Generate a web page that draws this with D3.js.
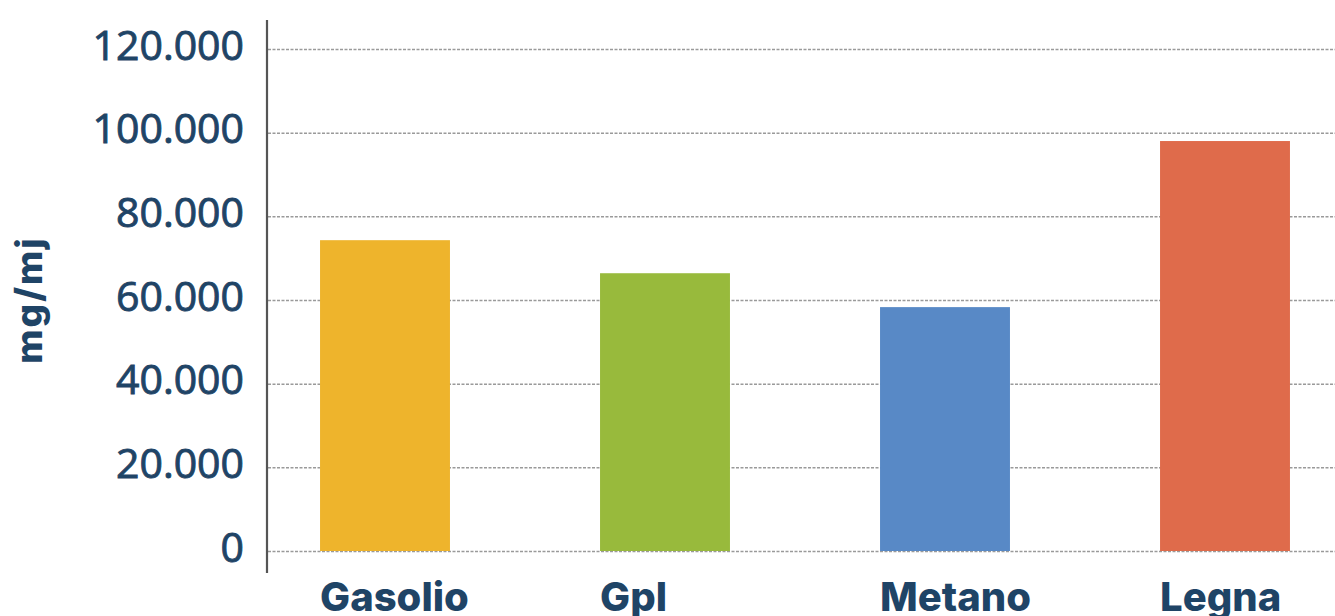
<!DOCTYPE html>
<html>
<head>
<meta charset="utf-8">
<script src="https://cdn.jsdelivr.net/npm/d3@7"></script>
<style>
    html, body { margin: 0; padding: 0; background: #ffffff; overflow: hidden; }
    #chart { width: 1335px; height: 616px; }
</style>
</head>
<body>
<div id="chart"></div>
<script>
//
// Emissioni per combustibile - bar chart
//
var categories = ["Gasolio", "Gpl", "Metano", "Legna"];
var values = [74300, 66400, 58300, 98000];
var barColors = ["#eeb42c", "#98ba3c", "#5889c6", "#df6b4b"];
var yTicks = [0, 20000, 40000, 60000, 80000, 100000, 120000];
var yLabel = "mg/mj";

var _textColor = "#1f4466";

function drawBars(divName, width, height) {

    var axisX = 267;
    var yTop = 49, yBottom = 551;

    var it = d3.formatLocale({ decimal: ",", thousands: ".", grouping: [3], currency: ["€", ""] });
    var fmt = it.format(",d");

    var svg = d3.select("#" + divName)
        .append("svg")
        .attr("width", width)
        .attr("height", height);

    var x = d3.scaleBand()
        .domain(categories)
        .range([245, 1365])
        .paddingInner(0.536)
        .paddingOuter(0.268);

    var y = d3.scaleLinear()
        .domain([0, 120000])
        .range([yBottom, yTop]);

    // y axis with gridlines
    var yAxis = svg.append("g")
        .attr("transform", "translate(" + axisX + ",0)")
        .call(d3.axisLeft(y)
            .tickValues(yTicks)
            .tickSize(-(width - axisX))
            .tickPadding(23)
            .tickFormat(fmt));

    yAxis.select(".domain").remove();

    yAxis.selectAll(".tick line")
        .attr("stroke", "#9a9a9a")
        .attr("stroke-width", 1.5)
        .attr("stroke-dasharray", "3,1.5")
        .attr("x1", 1);

    // regular weight thickened a little with a thin stroke (medium look)
    yAxis.selectAll(".tick text")
        .attr("fill", _textColor)
        .attr("stroke", _textColor)
        .attr("stroke-width", 0.9)
        .attr("dy", "10px")
        .style("font-family", "'Open Sans', sans-serif")
        .style("font-weight", 400)
        .style("font-size", "41px");

    // bars
    svg.selectAll("allBars")
        .data(categories)
        .enter()
        .append("rect")
        .attr("x", function (d) { return x(d); })
        .attr("y", function (d, idx) { return y(values[idx]); })
        .attr("width", x.bandwidth())
        .attr("height", function (d, idx) { return y(0) - y(values[idx]); })
        .attr("fill", function (d, idx) { return barColors[idx]; });

    // vertical axis line
    svg.append("line")
        .attr("x1", axisX).attr("x2", axisX)
        .attr("y1", 20).attr("y2", 573)
        .attr("stroke", "#555555")
        .attr("stroke-width", 2.2);

    // category labels, left aligned on the bars
    var xAxis = svg.append("g")
        .attr("transform", "translate(0," + yBottom + ")")
        .call(d3.axisBottom(x).tickSize(0).tickPadding(0));

    xAxis.select(".domain").remove();

    xAxis.selectAll(".tick text")
        .attr("fill", _textColor)
        .attr("x", -x.bandwidth() / 2)
        .attr("y", 60)
        .attr("dy", 0)
        .style("text-anchor", "start")
        .style("font-family", "Inter, sans-serif")
        .style("font-weight", 800)
        .style("font-size", "40px");

    // y label
    svg.append("text")
        .attr("transform", "translate(42,300) rotate(-90)")
        .style("text-anchor", "middle")
        .style("font-family", "Inter, sans-serif")
        .style("font-weight", 800)
        .style("font-size", "37px")
        .style("letter-spacing", "2px")
        .attr("fill", _textColor)
        .text(yLabel);

    return svg;
}

drawBars("chart", 1335, 616);
</script>
</body>
</html>
